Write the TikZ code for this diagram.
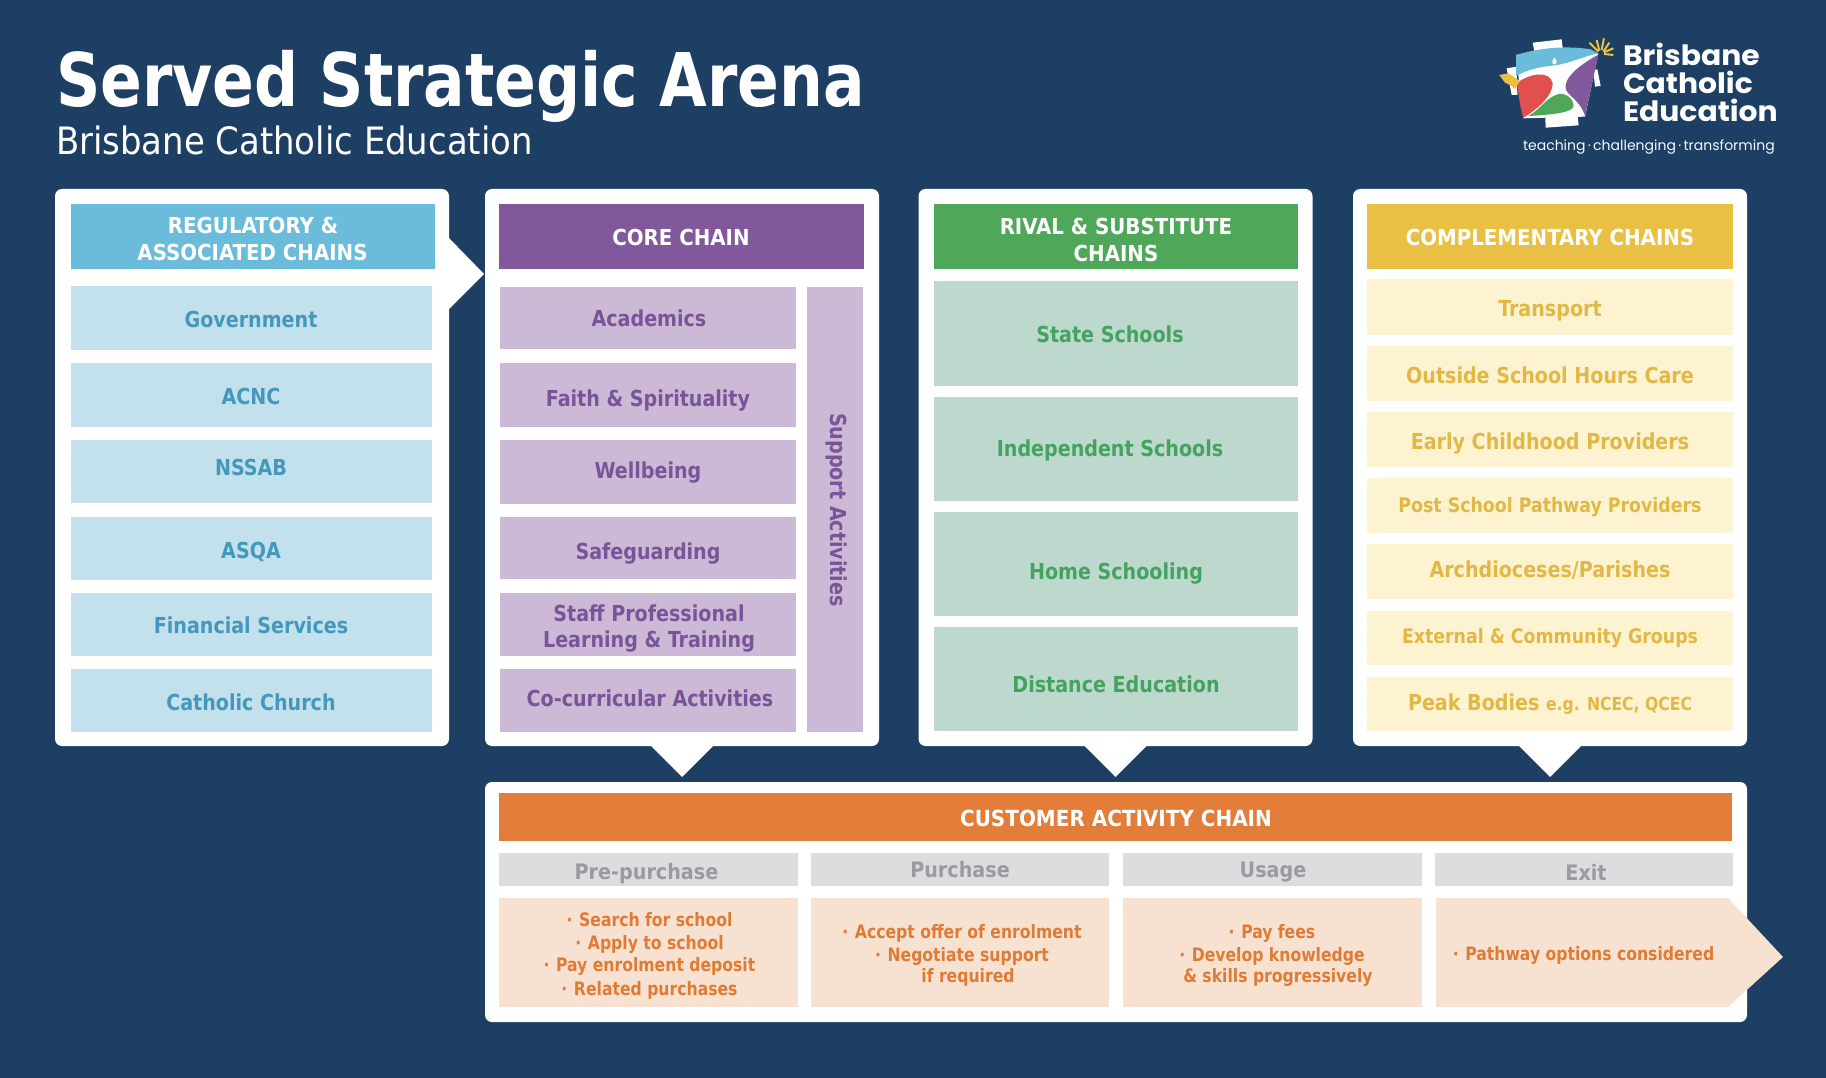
\documentclass[tikz,border=0pt]{standalone}
\usepackage{fontspec}
\setmainfont{DejaVu Sans Condensed}
\newfontfamily\logofont{Poppins}
\definecolor{bgc}{HTML}{1D3F63}
\definecolor{bluH}{HTML}{6BBBDA}\definecolor{bluI}{HTML}{C3E1EC}\definecolor{bluT}{HTML}{4398BC}
\definecolor{purH}{HTML}{80589B}\definecolor{purI}{HTML}{CBB9D5}\definecolor{purT}{HTML}{7A5499}
\definecolor{greH}{HTML}{4FA85A}\definecolor{greI}{HTML}{BDD8CD}\definecolor{greT}{HTML}{45A360}
\definecolor{yelH}{HTML}{EAC044}\definecolor{yelI}{HTML}{FDF3D1}\definecolor{yelT}{HTML}{E2B845}
\definecolor{oraH}{HTML}{E27D3A}\definecolor{oraI}{HTML}{F7E2D1}\definecolor{oraT}{HTML}{E07B35}
\definecolor{gryI}{HTML}{DCDDDF}\definecolor{gryT}{HTML}{9A9B9E}
\definecolor{logoR}{HTML}{E0504E}
\newcommand{\fsz}[1]{\fontsize{#1}{#1}\selectfont}
% name, x1,y1,x2,y2, fill
\newcommand{\bx}[6]{\fill[#6] (#2,#3) rectangle (#4,#5) coordinate (#1);}
% name, x, ycentre, colour, size, text
\newcommand{\tx}[6]{\node[txtn,text=#4,font=\bfseries\fsz{#5}] (#1) at (#2,#3+0.38*#5) {\scalebox{.965}[1]{#6}};}
\newcommand{\hx}[6]{\node[txtn,text=#4,font=\bfseries\fsz{#5}] (#1) at (#2,#3+0.36*#5) {#6};}
\newcommand{\bt}[6]{\node[txtn,text=#4,font=\bfseries\fsz{#5}] (#1) at (#2,#3+0.33*#5) {\scalebox{.94}[1]{#6}};}
\newcommand{\bul}{·\hspace{.38em}}
\tikzset{
 txtn/.style={inner sep=0pt,outer sep=0pt,anchor=base},
 logon/.style={txtn,anchor=base west,text=white,font=\logofont\bfseries\fsz{28}},
 panel/.style={fill=white,rounded corners=7pt,inner sep=0pt,outer sep=0pt,anchor=north west},
 tabf/.style={fill=white}
}
\begin{document}
\begin{tikzpicture}[x=1pt,y=-1pt]
\useasboundingbox (0,0) rectangle (1826,1078);
\fill[bgc] (0,0) rectangle (1826,1078);
% title
\node[txtn,anchor=base west,text=white,font=\bfseries\fsz{74}] (title) at (56,107) {\scalebox{.925}[1]{Served Strategic Arena}};
\node[txtn,anchor=base west,text=white,font=\fsz{37.7}] (subtitle) at (56,155) {Brisbane Catholic Education};
% logo
\begin{scope}[shift={(1460,20)},x=0.3333pt,y=-0.3333pt]
 \fill[white] (218,68)--(305,58)--(310,100)--(225,105)--cycle;
 \fill[white] (140,145)--(170,140)--(172,225)--(155,225)--cycle;
 \fill[white] (400,150)--(412,148)--(422,198)--(405,200)--cycle;
 \fill[white] (255,270)--(350,262)--(356,316)--(257,323)--cycle;
 \fill[white] (168,105)--(415,100)--(375,290)--(190,295)--cycle;
 \fill[bluH] (168,105) .. controls (250,80) and (330,78) .. (392,88) -- (415,100) .. controls (360,112) and (330,130) .. (285,136) .. controls (240,140) and (200,150) .. (168,168) -- cycle;
 \fill[white] (283,113) .. controls (275,122) and (275,132) .. (283,133) .. controls (292,132) and (292,122) .. (283,113) -- cycle;
 \fill[logoR] (172,188) .. controls (210,160) and (270,150) .. (278,190) .. controls (280,225) and (230,270) .. (190,293) .. controls (180,260) and (175,225) .. (172,188) -- cycle;
 \fill[purH] (415,104) -- (375,288) .. controls (365,255) and (345,240) .. (325,220) .. controls (300,195) and (330,150) .. (415,104) -- cycle;
 \fill[greH] (205,288) .. controls (240,270) and (255,235) .. (295,222) .. controls (320,218) and (345,240) .. (340,262) .. controls (330,280) and (260,285) .. (205,288) -- cycle;
 \fill[yelH] (118,165)--(145,160)--(180,183)--(165,207)--(150,195)--(135,188)--cycle;
 \draw[yelH,line width=2pt] (415,95)--(388,68) (418,92)--(410,60) (425,90)--(432,55) (430,95)--(448,68) (432,97)--(460,85) (432,102)--(460,105);
\end{scope}
\node[logon] (lg1) at (1623,65.5) {\scalebox{1.065}[1]{Brisbane}};
\node[logon] (lg2) at (1623,94) {\scalebox{1.065}[1]{Catholic}};
\node[logon] (lg3) at (1623,122) {\scalebox{1.065}[1]{Education}};
\node[txtn,anchor=base west,text=white!80!bluI,font=\logofont\fsz{14}] (lg4) at (1523,151) {teaching\,·\,challenging\,·\,transforming};
% panels
\node[panel,minimum width=394pt,minimum height=557pt] (p1) at (55,189) {};
\node[panel,minimum width=394pt,minimum height=557pt] (p2) at (485,189) {};
\node[panel,minimum width=394pt,minimum height=557pt] (p3) at (918.5,189) {};
\node[panel,minimum width=394pt,minimum height=557pt] (p4) at (1353,189) {};
\node[panel,minimum width=1262pt,minimum height=240pt] (p5) at (485,782) {};
% tabs
\fill[tabf] (p1.east |- 0,238) -- (484,274) -- (p1.east |- 0,309) -- cycle;
\fill[tabf] ([xshift=-32pt,yshift=1pt]p2.south) -- ([yshift=-31pt]p2.south) -- ([xshift=32pt,yshift=1pt]p2.south) -- cycle;
\fill[tabf] ([xshift=-32pt,yshift=1pt]p3.south) -- ([yshift=-31pt]p3.south) -- ([xshift=32pt,yshift=1pt]p3.south) -- cycle;
\fill[tabf] ([xshift=-32pt,yshift=1pt]p4.south) -- ([yshift=-31pt]p4.south) -- ([xshift=32pt,yshift=1pt]p4.south) -- cycle;
% panel 1
\bx{a0}{71}{204}{435}{269}{bluH}
\hx{ta0}{253}{226}{white}{22}{REGULATORY \&}
\hx{ta0b}{252.5}{253}{white}{22}{ASSOCIATED CHAINS}
\bx{a1}{71}{286}{432}{350}{bluI}\tx{ta1}{251}{319}{bluT}{22}{Government}
\bx{a2}{71}{363}{432}{427}{bluI}\tx{ta2}{251}{396}{bluT}{22}{ACNC}
\bx{a3}{71}{440}{432}{503}{bluI}\tx{ta3}{251}{467}{bluT}{22}{NSSAB}
\bx{a4}{71}{517}{432}{580}{bluI}\tx{ta4}{251}{550}{bluT}{22}{ASQA}
\bx{a5}{71}{593}{432}{656}{bluI}\tx{ta5}{251}{625.5}{bluT}{22}{Financial Services}
\bx{a6}{71}{669}{432}{732}{bluI}\tx{ta6}{251}{702}{bluT}{22}{Catholic Church}
% panel 2
\bx{b0}{499}{204}{864}{269}{purH}\hx{tb0}{681}{237.5}{white}{22}{CORE CHAIN}
\bx{b1}{500}{287}{796}{349}{purI}\tx{tb1}{649}{318}{purT}{22}{Academics}
\bx{b2}{500}{363}{796}{427}{purI}\tx{tb2}{648}{398}{purT}{22}{Faith \& Spirituality}
\bx{b3}{500}{440}{796}{504}{purI}\tx{tb3}{648}{470.5}{purT}{22}{Wellbeing}
\bx{b4}{500}{517}{796}{579}{purI}\tx{tb4}{648}{551.5}{purT}{22}{Safeguarding}
\bx{b5}{500}{593}{796}{656}{purI}\tx{tb5}{649}{613.5}{purT}{22}{Staff Professional}\tx{tb5b}{649}{639.5}{purT}{22}{Learning \& Training}
\bx{b6}{500}{669}{796}{732}{purI}\tx{tb6}{650}{698}{purT}{22}{Co-curricular Activities}
\bx{b7}{807}{287}{863}{732}{purI}
\node[inner sep=0pt,rotate=-90,text=purT,font=\bfseries\fsz{22}] (tb7) at (837,510) {\scalebox{.965}[1]{Support Activities}};
% panel 3
\bx{c0}{934}{204}{1298}{269}{greH}\hx{tc0}{1116}{226.5}{white}{22}{RIVAL \& SUBSTITUTE}\hx{tc0b}{1116}{254}{white}{22}{CHAINS}
\bx{c1}{934}{281}{1298}{386}{greI}\tx{tc1}{1110}{334.5}{greT}{22}{State Schools}
\bx{c2}{934}{397}{1298}{501}{greI}\tx{tc2}{1110}{448.5}{greT}{22}{Independent Schools}
\bx{c3}{934}{512}{1298}{616}{greI}\tx{tc3}{1116}{571}{greT}{22}{Home Schooling}
\bx{c4}{934}{627}{1298}{731}{greI}\tx{tc4}{1116}{684.5}{greT}{22}{Distance Education}
% panel 4
\bx{d0}{1367}{204}{1733}{269}{yelH}\hx{td0}{1550}{237.5}{white}{22}{COMPLEMENTARY CHAINS}
\bx{d1}{1367}{279}{1733}{335}{yelI}\tx{td1}{1550}{308}{yelT}{22}{Transport}
\bx{d2}{1367}{346}{1733}{401}{yelI}\tx{td2}{1550}{375}{yelT}{22}{Outside School Hours Care}
\bx{d3}{1367}{412}{1733}{467}{yelI}\tx{td3}{1550}{441}{yelT}{22}{Early Childhood Providers}
\bx{d4}{1367}{478}{1733}{533}{yelI}\tx{td4}{1550}{505}{yelT}{20}{Post School Pathway Providers}
\bx{d5}{1367}{544}{1733}{599}{yelI}\tx{td5}{1550}{569}{yelT}{22}{Archdioceses/Parishes}
\bx{d6}{1367}{611}{1733}{665}{yelI}\tx{td6}{1550}{636}{yelT}{20}{External \& Community Groups}
\bx{d7}{1367}{677}{1733}{731}{yelI}\tx{td7}{1550}{702.5}{yelT}{22}{Peak Bodies {\fsz{18}e.g. NCEC, QCEC}}
% panel 5
\bx{e0}{499}{793}{1732}{841}{oraH}\hx{te0}{1116}{818.5}{white}{22.2}{CUSTOMER ACTIVITY CHAIN}
\bx{f1}{499}{853}{798}{886}{gryI}\hx{tf1}{646.5}{872}{gryT}{21.3}{Pre-purchase}
\bx{f2}{811}{853}{1109}{886}{gryI}\hx{tf2}{960}{870}{gryT}{21.3}{Purchase}
\bx{f3}{1123}{853}{1422}{886}{gryI}\hx{tf3}{1273}{870}{gryT}{21.3}{Usage}
\bx{f4}{1435}{853}{1733}{886}{gryI}\hx{tf4}{1586}{873}{gryT}{21.3}{Exit}
\bx{g1}{499}{898}{798}{1007}{oraI}
\bt{tg1a}{649.5}{920}{oraT}{18.5}{\bul Search for school}
\bt{tg1b}{649.5}{943}{oraT}{18.5}{\bul Apply to school}
\bt{tg1c}{649.5}{965}{oraT}{18.5}{\bul Pay enrolment deposit}
\bt{tg1d}{649.5}{989}{oraT}{18.5}{\bul Related purchases}
\bx{g2}{811}{898}{1109}{1007}{oraI}
\bt{tg2a}{962}{932}{oraT}{18.5}{\bul Accept offer of enrolment}
\bt{tg2b}{962}{955}{oraT}{18.5}{\bul Negotiate support}
\bt{tg2c}{968}{976}{oraT}{18.5}{if required}
\bx{g3}{1123}{898}{1422}{1007}{oraI}
\bt{tg3a}{1272}{932}{oraT}{18.5}{\bul Pay fees}
\bt{tg3b}{1272}{955}{oraT}{18.5}{\bul Develop knowledge}
\bt{tg3c}{1278}{976}{oraT}{18.5}{\& skills progressively}
\fill[oraI] (1436,898) -- (1728,898) -- (1783,957) -- (1728,1007) -- (1436,1007) -- cycle;
\bt{tg4}{1583.5}{954}{oraT}{18.5}{\bul Pathway options considered}
\end{tikzpicture}
\end{document}
